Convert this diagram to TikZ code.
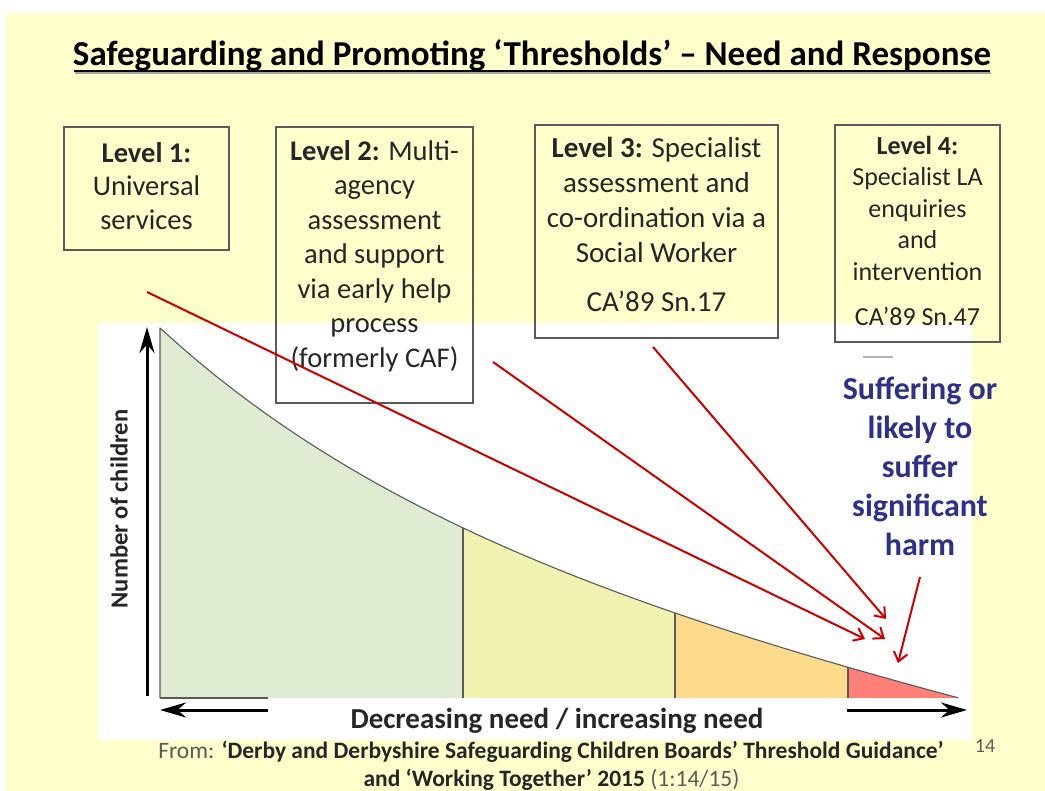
\documentclass[tikz,border=0pt]{standalone}
\usepackage{fontspec}
\setmainfont{Carlito}
\usetikzlibrary{arrows.meta}
\definecolor{paper}{RGB}{255,255,204}
\definecolor{lvgreen}{RGB}{223,236,210}
\definecolor{lvyellow}{RGB}{241,241,176}
\definecolor{lvorange}{RGB}{252,220,140}
\definecolor{lvred}{RGB}{255,128,120}
\definecolor{outline}{RGB}{90,90,90}
\definecolor{ink}{RGB}{38,38,38}
\definecolor{harmblue}{RGB}{46,49,140}
\definecolor{srcgray}{RGB}{90,90,90}
\definecolor{arrowred}{RGB}{204,0,0}
\tikzset{
  lvbox/.style={draw=outline, line width=1.2pt, inner sep=0pt},
  lvtext/.style={align=center, inner sep=0pt, text=ink},
  pointer/.style={draw=arrowred, line width=2pt, -{Straight Barb[length=9pt,width=14pt,line width=2pt]}},
  axis/.style={draw=black, line width=3pt, -{Stealth[length=26pt,width=15pt]}},
  region/.style={draw=outline, line width=1.1pt, line join=round},
}
\begin{document}
\begin{tikzpicture}[x=1pt,y=-1pt,
  declare function={cy(\x)=328+210.5*(1-exp(-(\x-160)/300))+0.218*(\x-160);}]
\useasboundingbox (0,0) rectangle (1045,791);
% page and chart backgrounds
\fill[white] (0,0) rectangle (1045,791);
\fill[paper] (6,13) rectangle (1045,791);
\fill[white] (98,323) rectangle (972,740);

% title
\node[inner sep=0pt, text=black, font=\fontsize{35}{40}\selectfont\bfseries] (title) at (532,56)
  {Safeguarding and Promoting ‘Thresholds’ – Need and Response};
\draw[gray!70, line width=1.6pt] (75,73) -- (991,73);
\draw[black, line width=1.8pt] (74,71) -- (990,71);

% need curve split into the four levels
\fill[lvgreen] (160,698) -- plot[domain=160:463, samples=50] (\x,{cy(\x)}) -- (463,698) -- cycle;
\fill[lvyellow] (463,698) -- plot[domain=463:675, samples=30] (\x,{cy(\x)}) -- (675,698) -- cycle;
\fill[lvorange] (675,698) -- plot[domain=675:848, samples=30] (\x,{cy(\x)}) -- (848,698) -- cycle;
\fill[lvred] (848,698) -- plot[domain=848:958, samples=20] (\x,{cy(\x)}) -- (958,698) -- cycle;
\draw[region] (160,698) -- (160,328) -- plot[domain=160:958, samples=120] (\x,{cy(\x)});
\draw[region] (160,698) -- (268,698);
\draw[region] (463,698) -- (463,{cy(463)});
\draw[region] (675,698) -- (675,{cy(675)});
\draw[region] (848,698) -- (848,{cy(848)});

% axes
\coordinate (yfoot) at (147,696);
\coordinate (ytip) at (147,327);
\draw[axis] (yfoot) -- (ytip);
\coordinate (xlfoot) at (268,710);
\coordinate (xltip) at (160,710);
\draw[axis] (xlfoot) -- (xltip);
\coordinate (xrfoot) at (847,710);
\coordinate (xrtip) at (967,710);
\draw[axis] (xrfoot) -- (xrtip);
\node[rotate=90, inner sep=0pt, text=ink, font=\fontsize{24.6}{28}\selectfont\bfseries] (ylab) at (119,509) {Number of children};
\node[inner sep=0pt, text=ink, font=\fontsize{29}{34}\selectfont\bfseries] (xlab) at (557,721) {Decreasing need / increasing need};

% level boxes
\node[lvbox, minimum width=165pt, minimum height=123pt] (lv1) at (146.5,188.5) {};
\node[lvtext, font=\fontsize{28.5}{33.5}\selectfont] (lv1t) at (146.5,186)
  {\textbf{Level 1:}\\Universal\\services};
\node[lvbox, minimum width=197pt, minimum height=276pt] (lv2) at (374.5,265) {};
\node[lvtext, font=\fontsize{28.5}{34.5}\selectfont] (lv2t) at (374.5,256)
  {\textbf{Level 2:} Multi-\\agency\\assessment\\and support\\via early help\\process\\(formerly CAF)};
\node[lvbox, minimum width=243pt, minimum height=213pt] (lv3) at (656.5,231.5) {};
\node[lvtext, font=\fontsize{29}{35}\selectfont] (lv3t) at (656.5,224)
  {\textbf{Level 3:} Specialist\\assessment and\\co-ordination via a\\Social Worker\\[14pt]CA’89 Sn.17};
\node[lvbox, minimum width=165pt, minimum height=217pt] (lv4) at (917.5,233.5) {};
\node[lvtext, font=\fontsize{26}{31.5}\selectfont] (lv4t) at (917.5,230.5)
  {\textbf{Level 4:}\\Specialist LA\\enquiries\\and\\intervention\\[13.5pt]CA’89 Sn.47};

% small rule and harm statement
\draw[gray!60, line width=2pt] (863,357) -- (893,357);
\node[align=center, inner sep=0pt, text=harmblue, font=\fontsize{32}{39}\selectfont\bfseries] (harm) at (920,466)
  {Suffering or\\likely to\\suffer\\significant\\harm};

% pointers from the levels to the curve
\coordinate (p1s) at (147,292);
\coordinate (p1e) at (865,639);
\coordinate (p2s) at (493,362);
\coordinate (p2e) at (885,639);
\coordinate (p3s) at (653,347);
\coordinate (p3e) at (886,619);
\coordinate (p4s) at (920,577);
\coordinate (p4e) at (898,663);
\draw[pointer] (p1s) -- (p1e);
\draw[pointer] (p2s) -- (p2e);
\draw[pointer] (p3s) -- (p3e);
\draw[pointer] (p4s) -- (p4e);

% source and slide number
\node[inner sep=0pt, font=\fontsize{23.5}{28}\selectfont] (src1) at (551,752)
  {\textcolor{srcgray}{From:} \textcolor{ink}{\bfseries ‘Derby and Derbyshire Safeguarding Children Boards’ Threshold Guidance’}};
\node[inner sep=0pt, font=\fontsize{23.5}{28}\selectfont] (src2) at (551.5,780)
  {\textcolor{ink}{\bfseries and ‘Working Together’ 2015} \textcolor{srcgray}{(1:14/15)}};
\node[inner sep=0pt, text=srcgray, font=\fontsize{20}{24}\selectfont] (pgno) at (985,746) {14};
\end{tikzpicture}
\end{document}
